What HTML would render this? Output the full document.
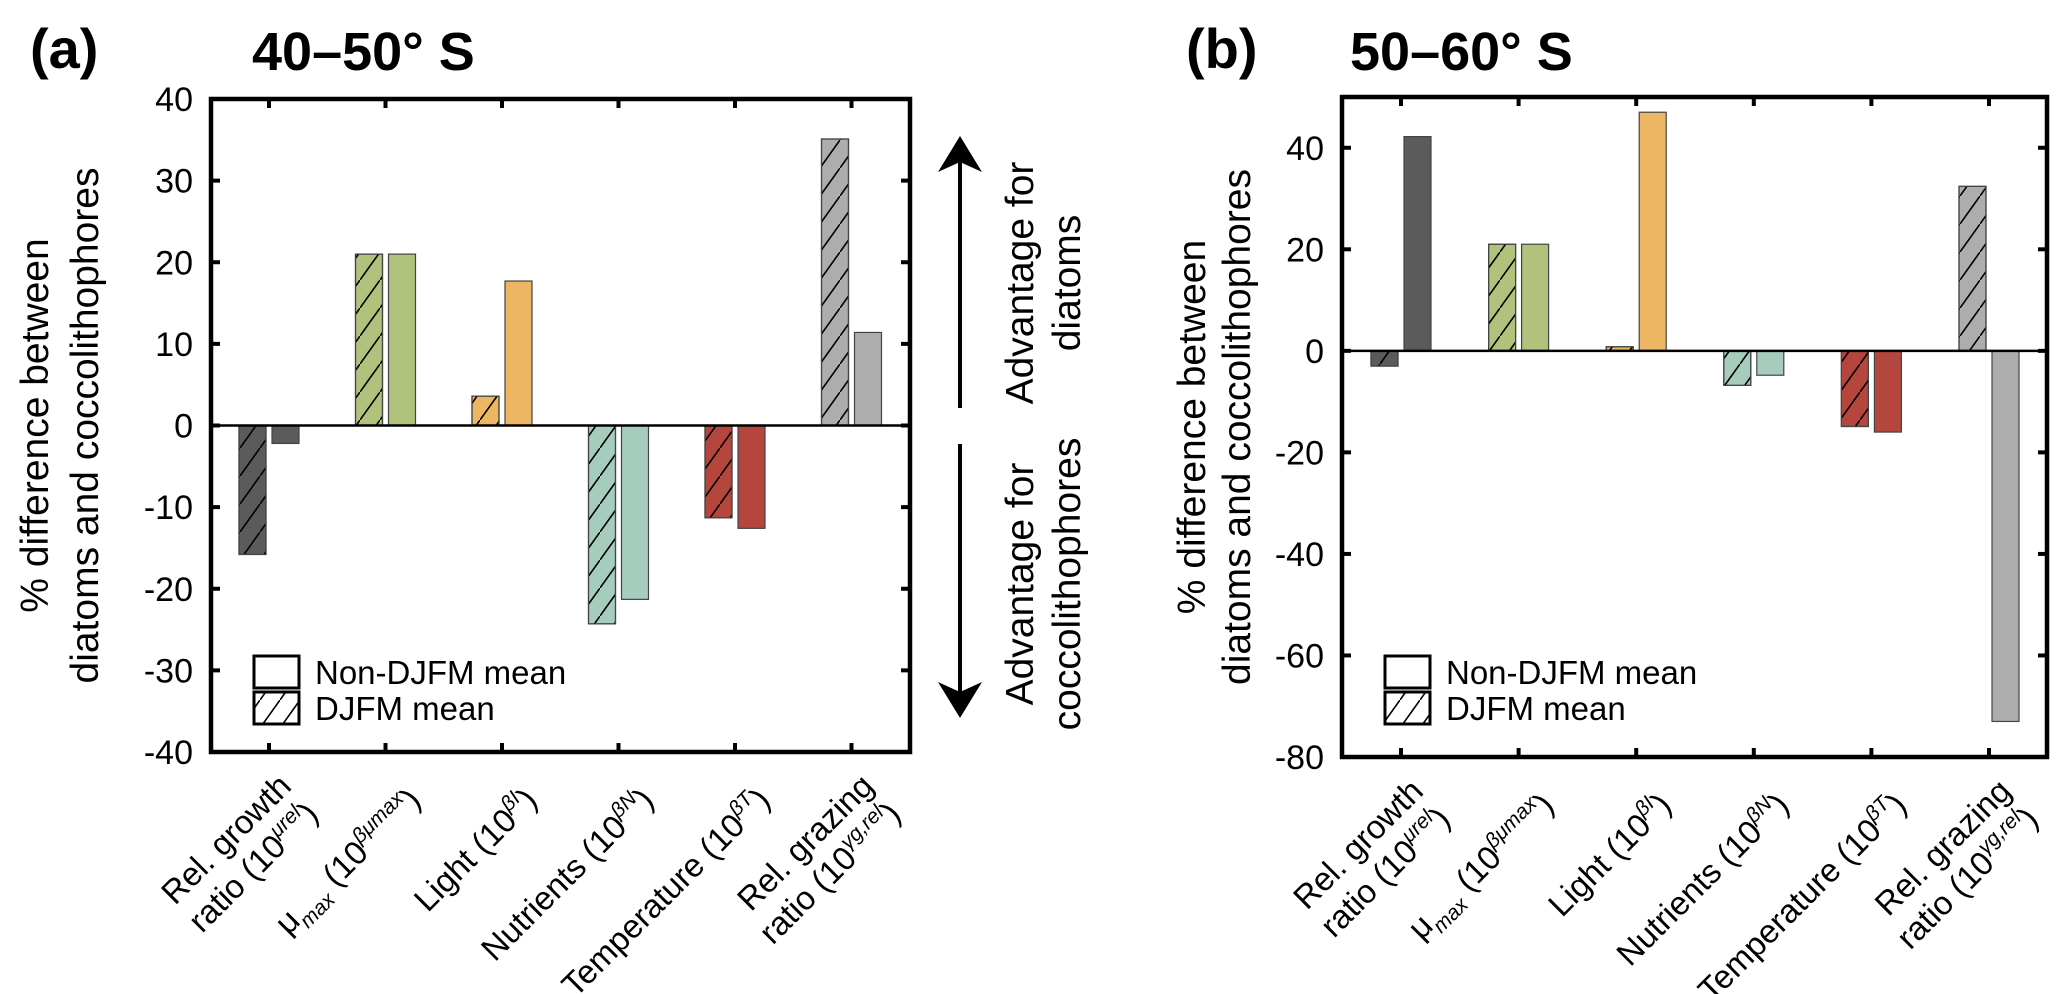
<!DOCTYPE html>
<html><head><meta charset="utf-8"><style>
html,body{margin:0;padding:0;background:#fff;}
svg{display:block;font-family:"Liberation Sans",Arial,sans-serif;}
</style></head><body>
<svg id="fig" width="2067" height="994" viewBox="0 0 2067 994" xmlns="http://www.w3.org/2000/svg">
<defs>
<pattern id="hatch" patternUnits="userSpaceOnUse" width="20" height="28">
<line x1="-1" y1="29.4" x2="21" y2="-1.4" stroke="#000" stroke-width="1.6"/>
</pattern>
</defs>
<text x="30" y="68" font-size="56" font-weight="bold">(a)</text>
<text x="252" y="70" font-size="54" font-weight="bold">40–50° S</text>
<text x="1186" y="68" font-size="56" font-weight="bold">(b)</text>
<text x="1350" y="70" font-size="54" font-weight="bold">50–60° S</text>
<g id="pa"></g>
<g id="pb"></g>
<g>
<line x1="960" y1="150" x2="960" y2="408" stroke="#000" stroke-width="4"/>
<polygon points="960,136 938,172 960,162 982,172" fill="#000"/>
<line x1="960" y1="444" x2="960" y2="704" stroke="#000" stroke-width="4"/>
<polygon points="960,718 938,682 960,692 982,682" fill="#000"/>
<text transform="translate(1033,283) rotate(-90)" font-size="39" text-anchor="middle"><tspan x="0" dy="0">Advantage for</tspan><tspan x="0" dy="47">diatoms</tspan></text>
<text transform="translate(1033,584) rotate(-90)" font-size="39" text-anchor="middle"><tspan x="0" dy="0">Advantage for</tspan><tspan x="0" dy="47">coccolithophores</tspan></text>
</g>
</svg>
<script>
const categories = ["Rel. growth ratio", "μmax", "Light", "Nutrients", "Temperature", "Rel. grazing ratio"];
const colors = ["#5b5b5b", "#b1c27c", "#ecb663", "#a6ccbd", "#b5463e", "#adadad"];
const aDJFM = [-15.8, 21.0, 3.6, -24.3, -11.3, 35.1];
const aNonDJFM = [-2.2, 21.0, 17.7, -21.3, -12.6, 11.4];
const bDJFM = [-3.0, 21.0, 0.8, -6.8, -14.9, 32.4];
const bNonDJFM = [42.2, 21.0, 47.0, -4.8, -16.0, -73.0];
const aTicks = [40, 30, 20, 10, 0, -10, -20, -30, -40];
const bTicks = [40, 20, 0, -20, -40, -60, -80];

const NS = "http://www.w3.org/2000/svg";
function mk(tag, attrs, parent){const e=document.createElementNS(NS,tag);for(const k in attrs)e.setAttribute(k,attrs[k]);parent.appendChild(e);return e;}

function drawPanel(g, cfg){
  const {L,R,T,B,ymin,ymax,ticks,djfm,non,labX1,labX2,firstX,step} = cfg;
  const y = v => T + (ymax - v) / (ymax - ymin) * (B - T);
  const x = i => firstX + i * step;
  for(let i=0;i<categories.length;i++){
    const c = x(i);
    const v1 = djfm[i], v2 = non[i];
    const r1 = mk('rect',{x:c-30,y:Math.min(y(v1),y(0)),width:27,height:Math.abs(y(v1)-y(0)),fill:colors[i],stroke:'#444','stroke-width':1.2},g);
    
    
    const h = mk('rect',{x:c-30,y:Math.min(y(v1),y(0)),width:27,height:Math.abs(y(v1)-y(0)),fill:'url(#hatch)',stroke:'#444','stroke-width':1.2},g);
    
    
    const r2 = mk('rect',{x:c+3,y:Math.min(y(v2),y(0)),width:27,height:Math.abs(y(v2)-y(0)),fill:colors[i],stroke:'#444','stroke-width':1.2},g);
    
    
  }
  const z = mk('line',{x1:L,x2:R,y1:y(0),y2:y(0),stroke:'#000','stroke-width':2.5},g);
  
  
  const f = mk('rect',{x:L,y:T,width:R-L,height:B-T,fill:'none',stroke:'#000','stroke-width':4.5},g);
  
  
  ticks.forEach(t=>{
    const yy = y(t);
    mk('line',{x1:L,x2:L+9,y1:yy,y2:yy,stroke:'#000','stroke-width':4},g);
    mk('line',{x1:R-9,x2:R,y1:yy,y2:yy,stroke:'#000','stroke-width':4},g);
    const tl = mk('text',{x:L-18,y:yy+12,'font-size':34,'text-anchor':'end'},g);
    tl.textContent = String(t);
    
    
  });
  for(let i=0;i<categories.length;i++){
    const c = x(i);
    mk('line',{x1:c,x2:c,y1:T,y2:T+9,stroke:'#000','stroke-width':4},g);
    mk('line',{x1:c,x2:c,y1:B-9,y2:B,stroke:'#000','stroke-width':4},g);
  }
  const labels = [
    ['Rel. growth', 'ratio (10<tspan font-size="21" dy="-14" font-style="italic">μrel</tspan><tspan dy="14">)</tspan>'],
    ['μ<tspan font-size="21" dy="9" font-style="italic">max</tspan><tspan dy="-9"> (10</tspan><tspan font-size="21" dy="-14" font-style="italic">βμmax</tspan><tspan dy="14">)</tspan>'],
    ['Light (10<tspan font-size="21" dy="-14" font-style="italic">βI</tspan><tspan dy="14">)</tspan>'],
    ['Nutrients (10<tspan font-size="21" dy="-14" font-style="italic">βN</tspan><tspan dy="14">)</tspan>'],
    ['Temperature (10<tspan font-size="21" dy="-14" font-style="italic">βT</tspan><tspan dy="14">)</tspan>'],
    ['Rel. grazing', 'ratio (10<tspan font-size="21" dy="-14" font-style="italic">γg,rel</tspan><tspan dy="14">)</tspan>']
  ];
  labels.forEach((ls,i)=>{
    const c = x(i);
    if(ls.length===2){
      ls.forEach((s,j)=>{
        const t = mk('text',{transform:`translate(${c+24+27*j},${B+36+28*j}) rotate(-45)`,'font-size':33,'text-anchor':'end'},g);
        t.innerHTML = s;
        
        
      });
    } else {
      const t = mk('text',{transform:`translate(${c+37},${B+50}) rotate(-45)`,'font-size':33,'text-anchor':'end'},g);
      t.innerHTML = ls[0];
      
      
    }
  });
  const cy = (T+B)/2;
  const yt = mk('text',{transform:`translate(${labX1},${cy}) rotate(-90)`,'font-size':39,'text-anchor':'middle'},g);
  yt.innerHTML = `<tspan x="0" dy="13">% difference between</tspan><tspan x="0" dy="${labX2-labX1}">diatoms and coccolithophores</tspan>`;
  
  
  const lg = mk('g',{},g);
  
  
  const lx = L+43;
  mk('rect',{x:lx,y:656,width:45,height:32,fill:'#fff',stroke:'#000','stroke-width':3},lg);
  mk('rect',{x:lx,y:692,width:45,height:32,fill:'url(#hatch)',stroke:'#000','stroke-width':3},lg);
  const t1 = mk('text',{x:lx+61,y:684,'font-size':33},lg);
  t1.textContent = 'Non-DJFM mean';
  
  
  const t2 = mk('text',{x:lx+61,y:720,'font-size':33},lg);
  t2.textContent = 'DJFM mean';
  
  
}

drawPanel(document.getElementById('pa'),{L:211,R:910,T:99,B:752,ymin:-40,ymax:40,ticks:aTicks,djfm:aDJFM,non:aNonDJFM,labX1:35,labX2:85,firstX:269,step:116.5});
drawPanel(document.getElementById('pb'),{L:1342,R:2047,T:97,B:757,ymin:-80,ymax:50,ticks:bTicks,djfm:bDJFM,non:bNonDJFM,labX1:1192,labX2:1237,firstX:1401,step:117.6});
</script>
</body></html>
